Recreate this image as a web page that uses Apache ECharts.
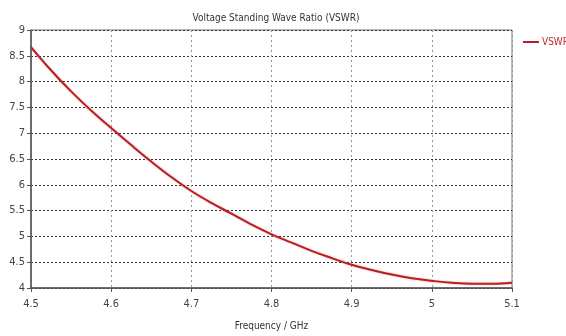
<!DOCTYPE html>
<html>
<head>
<meta charset="utf-8">
<script src="https://cdn.jsdelivr.net/npm/echarts@6/dist/echarts.min.js"></script>
<style>
    html, body { margin: 0; padding: 0; background: #fff; }
    #chart { width: 566px; height: 336px; }
</style>
</head>
<body>
<div id="chart"></div>
<script>
    // frequency (GHz) and VSWR
    var freq = [4.5, 4.525, 4.55, 4.575, 4.6, 4.625, 4.65, 4.675, 4.7, 4.725, 4.75, 4.775, 4.8,
                4.825, 4.85, 4.875, 4.9, 4.925, 4.95, 4.975, 5.0, 5.025, 5.05, 5.075, 5.1];
    var vswr = [8.67, 8.22, 7.81, 7.44, 7.10, 6.77, 6.45, 6.15, 5.88, 5.65, 5.44, 5.23, 5.04,
                4.88, 4.72, 4.58, 4.45, 4.35, 4.26, 4.19, 4.14, 4.10, 4.08, 4.08, 4.10];
    var seriesName = 'VSWR1';

    var points = freq.map(function (f, i) { return [f, vswr[i]]; });

    var font = '"DejaVu Sans Condensed", Tahoma, sans-serif';

    var option = {
        animation: false,
        title: {
            text: 'Voltage Standing Wave Ratio (VSWR)',
            left: 271,
            textAlign: 'center',
            top: 8,
            textStyle: { fontSize: 10, fontWeight: 'normal', color: '#333', fontFamily: font }
        },
        legend: {
            left: 518,
            top: 32,
            itemWidth: 16,
            itemHeight: 2,
            itemGap: 4,
            icon: 'rect',
            textStyle: { color: '#c0282d', fontSize: 10, fontFamily: font, padding: [0, 0, 0, -2] },
            data: [seriesName]
        },
        grid: {
            left: 31,
            right: 54,
            top: 30,
            bottom: 46,
            show: true,
            borderColor: '#777',
            borderWidth: 1
        },
        xAxis: {
            type: 'value',
            min: 4.5,
            max: 5.1,
            interval: 0.1,
            name: 'Frequency / GHz',
            nameLocation: 'middle',
            nameGap: 33,
            nameTextStyle: { fontSize: 10, color: '#333', fontFamily: font },
            axisLine: { show: true, lineStyle: { color: '#555', width: 1.5 } },
            axisTick: { show: true, length: 4, lineStyle: { color: '#555' } },
            axisLabel: { fontSize: 11, color: '#444', margin: 11, fontFamily: font },
            splitLine: { show: true, lineStyle: { type: [2, 3], color: '#999' } }
        },
        yAxis: {
            type: 'value',
            min: 4,
            max: 9,
            interval: 0.5,
            axisLine: { show: true, lineStyle: { color: '#555', width: 1.5 } },
            axisTick: { show: true, length: 4, lineStyle: { color: '#555' } },
            axisLabel: { fontSize: 11, color: '#444', margin: 6, fontFamily: font },
            splitLine: { show: true, lineStyle: { type: [2, 2], color: '#333' } }
        },
        series: [
            {
                name: seriesName,
                type: 'line',
                smooth: 0.4,
                showSymbol: false,
                data: points,
                lineStyle: {
                    color: '#b52026',
                    width: 2,
                    shadowColor: 'rgba(230, 80, 80, 0.5)',
                    shadowBlur: 2
                },
                itemStyle: { color: '#b52026' }
            }
        ]
    };

    var chart = echarts.init(document.getElementById('chart'));
    chart.setOption(option);
</script>
</body>
</html>
